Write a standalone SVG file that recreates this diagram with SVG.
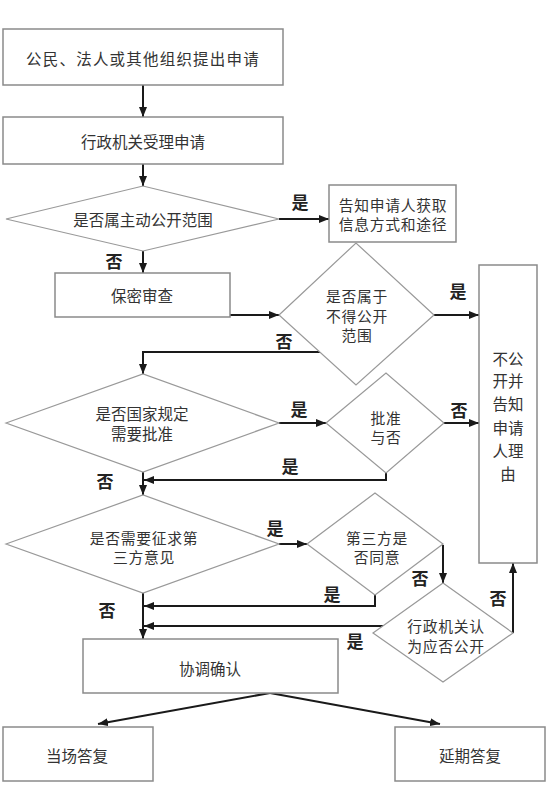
<svg xmlns="http://www.w3.org/2000/svg" width="550" height="788" viewBox="0 0 550 788">
<style>
.box{fill:#fff;stroke:#8a8a8a;stroke-width:1.5}
.dia{fill:#fff;stroke:#999;stroke-width:1.2}
.t{font-family:"Noto Sans CJK SC","Noto Sans",sans-serif;font-size:15.5px;fill:#333;text-anchor:middle;dominant-baseline:central}
.m{font-size:14.8px;letter-spacing:0.7px}
.lbl{font-family:"Noto Sans CJK SC","Noto Sans",sans-serif;font-size:17px;font-weight:bold;fill:#222;text-anchor:middle;dominant-baseline:central}
.c{fill:none;stroke:#1a1a1a;stroke-width:2;marker-end:url(#ah)}
</style>
<defs>
<marker id="ah" viewBox="0 0 10 8" refX="10" refY="4" markerWidth="10" markerHeight="8" markerUnits="userSpaceOnUse" orient="auto">
<path d="M0,0 L10,4 L0,8 z" fill="#1a1a1a"/>
</marker>
</defs>
<rect width="550" height="788" fill="#fff"/>
<g id="connectors">
<line class="c" x1="143" y1="85" x2="143" y2="117"/>
<line class="c" x1="143" y1="164" x2="143" y2="186"/>
<line class="c" x1="279" y1="219" x2="329" y2="219"/>
<line class="c" x1="143" y1="251" x2="143" y2="273"/>
<line class="c" x1="230" y1="315" x2="279" y2="315"/>
<line class="c" x1="434" y1="315" x2="479" y2="315"/>
<polyline class="c" points="320,352 143,352 143,374"/>
<line class="c" x1="279" y1="423" x2="326" y2="423"/>
<line class="c" x1="444" y1="423" x2="479" y2="423"/>
<polyline class="c" points="386,473 386,480 144,480"/>
<line class="c" x1="143" y1="472" x2="143" y2="495"/>
<line class="c" x1="279" y1="544" x2="307" y2="544"/>
<line class="c" x1="443" y1="545" x2="443" y2="583"/>
<polyline class="c" points="375,595 375,606 144,606"/>
<line class="c" x1="383" y1="626" x2="144" y2="626"/>
<polyline class="c" points="513,633 513,563"/>
<line class="c" x1="143" y1="593" x2="143" y2="639"/>
<line class="c" x1="270" y1="693" x2="98" y2="724"/>
<line class="c" x1="270" y1="693" x2="440" y2="724"/>
</g>
<g id="labels">
<text class="lbl" x="300" y="201">是</text>
<text class="lbl" x="114" y="260">否</text>
<text class="lbl" x="458" y="290">是</text>
<text class="lbl" x="284" y="340">否</text>
<text class="lbl" x="299" y="408">是</text>
<text class="lbl" x="459" y="409">否</text>
<text class="lbl" x="290" y="465">是</text>
<text class="lbl" x="105" y="480">否</text>
<text class="lbl" x="275" y="527">是</text>
<text class="lbl" x="420" y="577">否</text>
<text class="lbl" x="332" y="593">是</text>
<text class="lbl" x="498" y="597">否</text>
<text class="lbl" x="107" y="609">否</text>
<text class="lbl" x="355" y="640">是</text>
</g>
<g id="n1"><rect class="box" x="3" y="29" width="280" height="56"/><text class="t" x="143" y="58" letter-spacing="1.2">公民、法人或其他组织提出申请</text></g>
<g id="n2"><rect class="box" x="3" y="117" width="280" height="47"/><text class="t" x="143" y="141">行政机关受理申请</text></g>
<g id="d1"><polygon class="dia" points="6,219 143,186 279,219 143,251"/><text class="t" x="143" y="219">是否属主动公开范围</text></g>
<g id="n3"><rect class="box" x="329" y="185" width="127" height="57"/><text class="t m" x="393" y="204">告知申请人获取</text><text class="t m" x="393" y="223.5">信息方式和途径</text></g>
<g id="n4"><rect class="box" x="55" y="273" width="175" height="44"/><text class="t" x="142" y="295">保密审查</text></g>
<g id="d2"><polygon class="dia" points="279,315 356,243 434,315 356,385"/><text class="t m" x="357" y="295.5">是否属于</text><text class="t m" x="357" y="315">不得公开</text><text class="t m" x="357" y="334.5">范围</text></g>
<g id="n5"><rect class="box" x="479" y="265" width="58" height="298"/>
<text class="t" x="508" y="358">不公</text><text class="t" x="508" y="380">开并</text><text class="t" x="508" y="403">告知</text><text class="t" x="508" y="427">申请</text><text class="t" x="508" y="450">人理</text><text class="t" x="508" y="473">由</text></g>
<g id="d3"><polygon class="dia" points="6,423 143,374 279,423 143,472"/><text class="t" x="142" y="413">是否国家规定</text><text class="t" x="142" y="433">需要批准</text></g>
<g id="d4"><polygon class="dia" points="326,423 386,373 444,423 386,473"/><text class="t m" x="386" y="417">批准</text><text class="t m" x="386" y="436.5">与否</text></g>
<g id="d5"><polygon class="dia" points="6,544 143,495 279,544 143,593"/><text class="t m" x="144" y="537">是否需要征求第</text><text class="t m" x="144" y="556.5">三方意见</text></g>
<g id="d6"><polygon class="dia" points="307,544 375,493 443,544 375,595"/><text class="t m" x="377" y="537">第三方是</text><text class="t m" x="377" y="556.5">否同意</text></g>
<g id="d7"><polygon class="dia" points="373,633 443,583 513,633 443,682"/><text class="t m" x="446" y="625.5">行政机关认</text><text class="t m" x="446" y="645">为应否公开</text></g>
<g id="n6"><rect class="box" x="83" y="639" width="255" height="54"/><text class="t" x="210" y="668">协调确认</text></g>
<g id="n7"><rect class="box" x="3" y="727" width="150" height="54"/><text class="t" x="77" y="755">当场答复</text></g>
<g id="n8"><rect class="box" x="395" y="727" width="150" height="54"/><text class="t" x="470" y="755">延期答复</text></g>
</svg>
